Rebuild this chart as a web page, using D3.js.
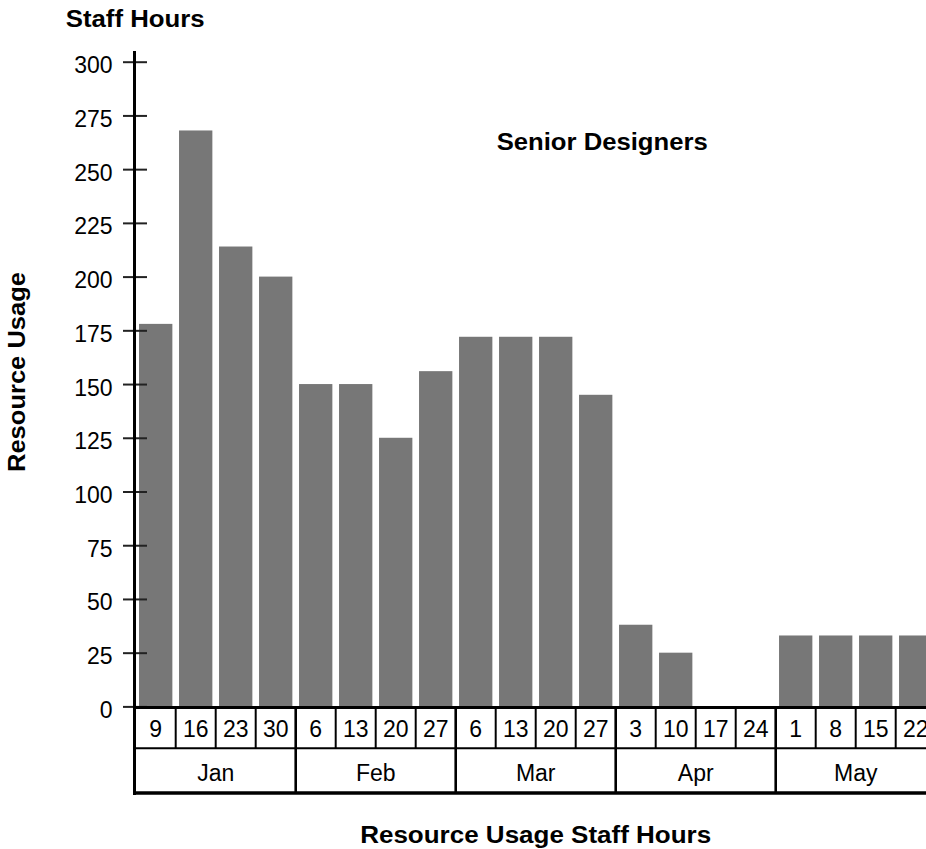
<!DOCTYPE html>
<html>
<head>
<meta charset="utf-8">
<script src="https://cdn.jsdelivr.net/npm/d3@7"></script>
<style>
  html, body { margin: 0; padding: 0; background: #fff; overflow: hidden; }
  svg { display: block; }
  text { font-family: "Liberation Sans", Arial, sans-serif; fill: #000; }
</style>
</head>
<body>
<script>
// ---- data ----
const weekDays   = ["9","16","23","30","6","13","20","27","6","13","20","27","3","10","17","24","1","8","15","22"];
const weekMonth  = [0,0,0,0,1,1,1,1,2,2,2,2,3,3,3,3,4,4,4,4];
const months     = ["Jan","Feb","Mar","Apr","May"];
const hours      = [178,268,214,200,150,150,125,156,172,172,172,145,38,25,0,0,33,33,33,33];
const yTicks     = [0,25,50,75,100,125,150,175,200,225,250,275,300];
const seriesName = "Senior Designers";
const yTitleTop  = "Staff Hours";
const yTitle     = "Resource Usage";
const xTitle     = "Resource Usage Staff Hours";

const W = 926, H = 849;
const svg = d3.select("body").append("svg").attr("width", W).attr("height", H);

const x0 = 135.7, x1 = 935.7;
const ids = weekDays.map((d, i) => i);
const x = d3.scaleBand().domain(ids).range([x0, x1]).paddingInner(0.1667).paddingOuter(0.0833);
const y = d3.scaleLinear().domain([0, 300]).range([706.4, 61.7]);

// bars
svg.append("g").selectAll("rect").data(hours).join("rect")
  .attr("x", (d, i) => x(i))
  .attr("width", x.bandwidth())
  .attr("y", d => y(d))
  .attr("height", d => y(0) - y(d))
  .attr("fill", "#777777");

// y axis ticks + labels
const yAxis = d3.axisLeft(y).tickValues(yTicks).tickSize(24).tickPadding(10.5);
const gy = svg.append("g").attr("transform", "translate(147,0)").call(yAxis);
gy.select(".domain").remove();
gy.selectAll(".tick line").attr("stroke", "#222").attr("stroke-width", 2);
gy.selectAll(".tick text")
  .attr("font-size", 23)
  .attr("font-family", "Liberation Sans, Arial, sans-serif")
  .attr("fill", "#000")
  .attr("dy", "0.48em");

// vertical axis line
svg.append("line").attr("x1", 134.5).attr("x2", 134.5).attr("y1", 51).attr("y2", 795)
  .attr("stroke", "#000").attr("stroke-width", 3);

// table
const rowTop = 707.5, rowMid = 748.3, rowBot = 793;
svg.append("line").attr("x1", 133).attr("x2", W).attr("y1", rowTop).attr("y2", rowTop)
  .attr("stroke", "#000").attr("stroke-width", 3);
svg.append("line").attr("x1", 133).attr("x2", W).attr("y1", rowMid).attr("y2", rowMid)
  .attr("stroke", "#000").attr("stroke-width", 2);
svg.append("line").attr("x1", 133).attr("x2", W).attr("y1", rowBot).attr("y2", rowBot)
  .attr("stroke", "#000").attr("stroke-width", 3.5);

const step = x.step();
const cellLeft = i => x(i) - x.paddingOuter() * step;

// week dividers
svg.append("g").selectAll("line").data(ids.slice(1)).join("line")
  .attr("x1", i => cellLeft(i)).attr("x2", i => cellLeft(i))
  .attr("y1", rowTop).attr("y2", d => weekMonth[d] !== weekMonth[d - 1] ? rowBot : rowMid)
  .attr("stroke", "#000")
  .attr("stroke-width", d => weekMonth[d] !== weekMonth[d - 1] ? 2.6 : 2);

// week labels
svg.append("g").selectAll("text").data(weekDays).join("text")
  .attr("x", (d, i) => x(i) + x.bandwidth() / 2)
  .attr("y", 737)
  .attr("text-anchor", "middle")
  .attr("font-size", 23)
  .text(d => d);

// month labels
const monthSpans = months.map((m, mi) => {
  const idx = ids.filter(i => weekMonth[i] === mi);
  const l = cellLeft(idx[0]);
  const r = cellLeft(idx[idx.length - 1]) + step;
  return { m, c: (l + r) / 2 };
});
svg.append("g").selectAll("text").data(monthSpans).join("text")
  .attr("x", d => d.c)
  .attr("y", 780.5)
  .attr("text-anchor", "middle")
  .attr("font-size", 23)
  .text(d => d.m);

// titles
svg.append("text").attr("x", 65.7).attr("y", 26.7)
  .attr("font-size", 23).attr("font-weight", "bold")
  .attr("textLength", 139).attr("lengthAdjust", "spacingAndGlyphs")
  .text(yTitleTop);

svg.append("text").attr("x", 496.7).attr("y", 150)
  .attr("font-size", 23).attr("font-weight", "bold")
  .attr("textLength", 211).attr("lengthAdjust", "spacingAndGlyphs")
  .text(seriesName);

svg.append("text").attr("x", (x0 + x1) / 2).attr("y", 843)
  .attr("text-anchor", "middle")
  .attr("font-size", 23).attr("font-weight", "bold")
  .attr("textLength", 351).attr("lengthAdjust", "spacingAndGlyphs")
  .text(xTitle);

svg.append("text")
  .attr("transform", "translate(25,372) rotate(-90)")
  .attr("text-anchor", "middle")
  .attr("font-size", 23).attr("font-weight", "bold")
  .attr("textLength", 200).attr("lengthAdjust", "spacingAndGlyphs")
  .text(yTitle);
</script>
</body>
</html>
